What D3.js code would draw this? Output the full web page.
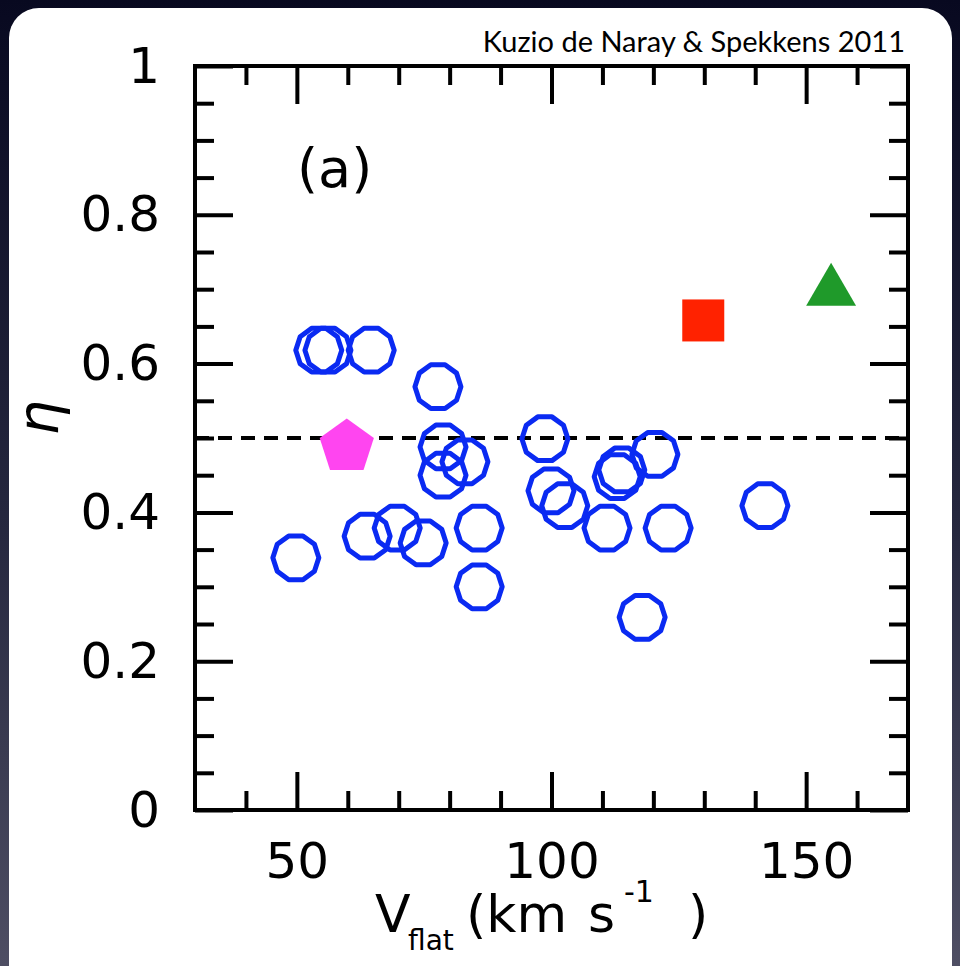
<!DOCTYPE html>
<html><head><meta charset="utf-8">
<script src="https://cdn.jsdelivr.net/npm/d3@7"></script>
<style>html,body{margin:0;padding:0;background:#0a0a23;} svg{display:block;}</style>
</head><body><svg id="c" width="960" height="966"></svg>
<script>
// ---- data ----
const circleV   = [54.3, 56.1, 64.6, 77.7, 78.7, 83.0, 78.7, 63.8, 69.7, 74.8, 85.8, 49.8, 85.8, 98.7, 99.9, 102.6, 120.3, 113.8, 112.9, 110.9, 122.9, 141.9, 117.8];
const circleEta = [0.618, 0.618, 0.618, 0.569, 0.488, 0.468, 0.450, 0.368, 0.379, 0.359, 0.379, 0.339, 0.300, 0.499, 0.429, 0.409, 0.478, 0.457, 0.448, 0.379, 0.379, 0.409, 0.259];
const pentagonPt = {v: 59.8, eta: 0.488};
const squarePt   = {v: 129.8, eta: 0.658};
const trianglePt = {v: 154.9, eta: 0.697};
const referenceEta = 0.5;
const xMajor = [50, 100, 150];
const xMinor = [40, 60, 70, 80, 90, 110, 120, 130, 140, 160];
const yMajor = [0, 0.2, 0.4, 0.6, 0.8, 1];
const yMinor = [0.05,0.1,0.15,0.25,0.3,0.35,0.45,0.5,0.55,0.65,0.7,0.75,0.85,0.9,0.95];
const credit = "Kuzio de Naray & Spekkens 2011";
const panelLabel = "(a)";

// ---- layout ----
const L = 195, R = 908, T = 66, B = 810;
const x = d3.scaleLinear().domain([30, 170]).range([L, R]);
const y = d3.scaleLinear().domain([0, 1]).range([B, T]);

const svg = d3.select("#c");
const defs = svg.append("defs");
const g = defs.append("linearGradient").attr("id","bg").attr("x1",0).attr("y1",0).attr("x2",0).attr("y2",1);
g.append("stop").attr("offset","0%").attr("stop-color","#080920");
g.append("stop").attr("offset","55%").attr("stop-color","#26283f");
g.append("stop").attr("offset","100%").attr("stop-color","#4e4e63");
svg.append("rect").attr("width",960).attr("height",966).attr("fill","url(#bg)");
svg.append("rect").attr("x",9).attr("y",8).attr("width",943).attr("height",990).attr("rx",30).attr("fill","#fff");

const font = "'DejaVu Sans', sans-serif";

// ticks
function tickAxis(axis, tr) {
  const a = svg.append("g").attr("transform", tr).call(axis);
  a.select(".domain").remove();
  a.selectAll("line").attr("stroke","#000").attr("stroke-width",4);
  a.selectAll("text").remove();
}
tickAxis(d3.axisLeft(y).tickValues(yMajor).tickSize(-38).tickFormat(""), `translate(${L},0)`);
tickAxis(d3.axisLeft(y).tickValues(yMinor).tickSize(-19).tickFormat(""), `translate(${L},0)`);
tickAxis(d3.axisRight(y).tickValues(yMajor).tickSize(-38).tickFormat(""), `translate(${R},0)`);
tickAxis(d3.axisRight(y).tickValues(yMinor).tickSize(-19).tickFormat(""), `translate(${R},0)`);
tickAxis(d3.axisBottom(x).tickValues(xMajor).tickSize(-38).tickFormat(""), `translate(0,${B})`);
tickAxis(d3.axisBottom(x).tickValues(xMinor).tickSize(-19).tickFormat(""), `translate(0,${B})`);
tickAxis(d3.axisTop(x).tickValues(xMajor).tickSize(-38).tickFormat(""), `translate(0,${T})`);
tickAxis(d3.axisTop(x).tickValues(xMinor).tickSize(-19).tickFormat(""), `translate(0,${T})`);

// tick labels
const yl = svg.append("g").attr("transform",`translate(${L},0)`)
  .call(d3.axisLeft(y).tickValues(yMajor).tickSize(0).tickPadding(35)
    .tickFormat(d => (d === 0 || d === 1) ? String(d) : d3.format(".1f")(d)));
yl.select(".domain").remove();
yl.selectAll("text").attr("font-family",font).attr("font-size",50).attr("fill","#000");
const xl = svg.append("g").attr("transform",`translate(0,${B})`)
  .call(d3.axisBottom(x).tickValues(xMajor).tickSize(0).tickPadding(32));
xl.select(".domain").remove();
xl.selectAll("text").attr("font-family",font).attr("font-size",50).attr("fill","#000");

// frame
svg.append("rect").attr("x",L).attr("y",T).attr("width",R-L).attr("height",B-T)
  .attr("fill","none").attr("stroke","#000").attr("stroke-width",4);

// dashed reference line
svg.append("line").attr("x1",x(30)).attr("x2",x(170)).attr("y1",y(referenceEta)).attr("y2",y(referenceEta))
  .attr("stroke","#000").attr("stroke-width",4).attr("stroke-dasharray","14,9");

// decagon circles
function polyPath(cx, cy, r, n, rot) {
  const p = d3.path();
  for (let k = 0; k < n; k++) {
    const a = rot + k * 2 * Math.PI / n;
    const px = cx + r * Math.cos(a), py = cy + r * Math.sin(a);
    if (k === 0) p.moveTo(px, py); else p.lineTo(px, py);
  }
  p.closePath();
  return p.toString();
}
svg.append("g").selectAll("path").data(circleV.map((v,i)=>({v, e: circleEta[i]}))).join("path")
  .attr("d", d => polyPath(x(d.v), y(d.e), 23, 10, 0))
  .attr("fill","none").attr("stroke","#0a2af2").attr("stroke-width",5).attr("stroke-linejoin","round");

// pentagon
svg.append("path").attr("d", polyPath(x(pentagonPt.v), y(pentagonPt.eta), 28.5, 5, -Math.PI/2))
  .attr("fill","#ff45f0");
// square
const sq = 42;
svg.append("rect").attr("x", x(squarePt.v) - sq/2).attr("y", y(squarePt.eta) - sq/2)
  .attr("width", sq).attr("height", sq).attr("fill","#ff2200");
// triangle (centroid at data point)
svg.append("path").attr("d", polyPath(x(trianglePt.v), y(trianglePt.eta), 28.8, 3, -Math.PI/2))
  .attr("fill","#1f9a2a");

// panel label
svg.append("text").attr("x",297).attr("y",187).attr("font-family",font).attr("font-size",54).text(panelLabel);

// credit
svg.append("text").attr("x",905).attr("y",52).attr("text-anchor","end")
  .attr("font-family","Lato, 'Open Sans', sans-serif").attr("font-size",29).attr("fill","#000").text(credit);

// axis titles
const xt = svg.append("g").attr("font-family",font).attr("fill","#000");
xt.append("text").attr("x",375).attr("y",932).attr("font-size",52).text("V");
xt.append("text").attr("x",408).attr("y",950).attr("font-size",28).text("flat");
xt.append("text").attr("x",466).attr("y",932).attr("font-size",52).text("(km");
xt.append("text").attr("x",588).attr("y",932).attr("font-size",52).text("s");
xt.append("text").attr("x",624).attr("y",902).attr("font-size",30).text("-1");
xt.append("text").attr("x",688).attr("y",932).attr("font-size",52).text(")");

svg.append("text").attr("transform","translate(58,418) rotate(-90)").attr("text-anchor","middle")
  .attr("font-family",font).attr("font-size",56).attr("font-style","italic").attr("fill","#000").text("η");
</script></body></html>
